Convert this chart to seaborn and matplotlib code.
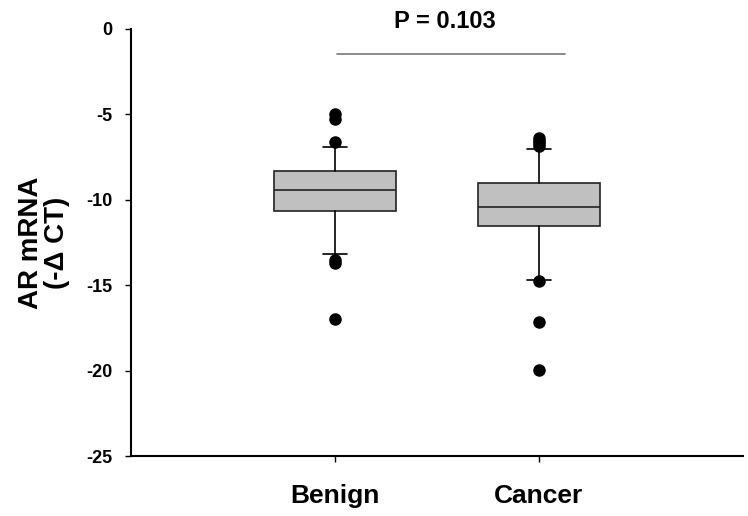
import matplotlib
matplotlib.use("Agg")
import matplotlib.pyplot as plt
import seaborn as sns

# box summary values
groups = ["Benign", "Cancer"]
q1 = [-10.65, -11.55]
med = [-9.43, -10.40]
q3 = [-8.30, -9.00]
whis_lo = [-13.2, -14.7]
whis_hi = [-6.9, -7.0]
outliers = [
    [-5.0, -5.3, -6.6, -13.5, -13.7, -17.0],
    [-6.4, -6.55, -6.7, -6.85, -14.75, -17.15, -19.97],
]
p_text = "P = 0.103"

sns.set_style("white")
plt.rcParams["font.family"] = ["Liberation Sans", "DejaVu Sans"]
plt.rcParams["font.weight"] = "bold"
plt.rcParams["axes.unicode_minus"] = False
plt.rcParams["text.color"] = "black"
plt.rcParams["axes.labelcolor"] = "black"
plt.rcParams["xtick.color"] = "black"
plt.rcParams["ytick.color"] = "black"

fig = plt.figure(figsize=(7.48, 5.16), dpi=100)
ax = fig.add_axes([0.175, 0.116, 0.818, 0.828])

stats = []
for i, g in enumerate(groups):
    stats.append({"label": g, "med": med[i], "q1": q1[i], "q3": q3[i],
                  "whislo": whis_lo[i], "whishi": whis_hi[i],
                  "fliers": outliers[i]})

ax.bxp(stats, positions=[0, 1], widths=0.6, patch_artist=True,
       boxprops=dict(facecolor="#c0c0c0", edgecolor="#222222", linewidth=1.2),
       medianprops=dict(color="#222222", linewidth=1.2),
       whiskerprops=dict(color="black", linewidth=1.2),
       capprops=dict(color="black", linewidth=1.2),
       capwidths=0.12,
       flierprops=dict(marker="o", markerfacecolor="black",
                       markeredgecolor="black", markersize=8))

ax.set_xlim(-1.0, 2.0)
ax.set_ylim(-25, 0)
ax.set_yticks([0, -5, -10, -15, -20, -25])
ax.set_xticks([0, 1])
ax.set_xticklabels(groups, fontsize=19, fontweight="bold")
ax.tick_params(axis="y", labelsize=13, length=4, width=1, direction="out",
               left=True, pad=9)
ax.tick_params(axis="x", length=4, width=1, direction="out", bottom=True,
               pad=16)
for lab in ax.get_yticklabels():
    lab.set_fontweight("bold")

sns.despine(ax=ax)
for s in ["left", "bottom"]:
    ax.spines[s].set_linewidth(1.5)
    ax.spines[s].set_color("black")

ax.set_ylabel("AR mRNA\n(-Δ CT)", fontsize=20, fontweight="bold",
              labelpad=12, linespacing=1.0)

# significance line
ax.plot([0.01, 1.13], [-1.46, -1.46], color="#777777", lw=1.2, clip_on=False)
ax.text(0.54, 0.45, p_text, ha="center", va="center", fontsize=17,
        fontweight="bold", clip_on=False)

fig.savefig("out.png", dpi=100)
